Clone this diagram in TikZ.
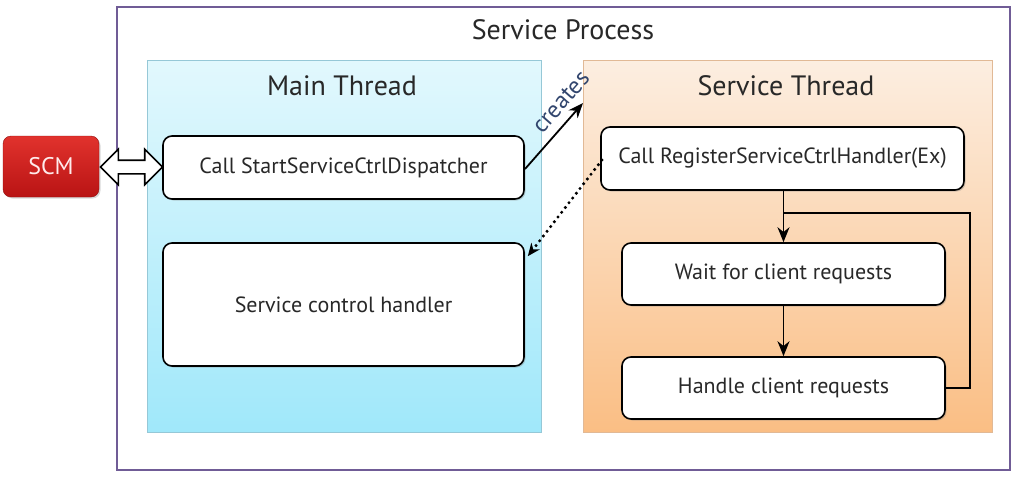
\documentclass[tikz,border=0pt]{standalone}
\usepackage{fontspec}
\setmainfont{PT Sans}
\usetikzlibrary{shapes.arrows,arrows.meta,shadows}
\definecolor{procline}{RGB}{112,92,150}
\definecolor{bluetop}{RGB}{226,248,253}
\definecolor{bluebot}{RGB}{160,232,250}
\definecolor{bluedge}{RGB}{150,200,215}
\definecolor{orgtop}{RGB}{252,238,225}
\definecolor{orgbot}{RGB}{250,190,132}
\definecolor{orgedge}{RGB}{225,185,150}
\definecolor{scmtop}{RGB}{225,50,45}
\definecolor{scmbot}{RGB}{185,20,20}
\definecolor{txt}{RGB}{40,40,40}
\definecolor{createc}{RGB}{50,70,110}
\tikzset{
  stepbox/.style={draw=black, line width=1.6pt, rounded corners=9pt, fill=white,
    drop shadow={shadow xshift=1.5pt, shadow yshift=-1.5pt, opacity=0.35},
    font=\fontsize{22}{26}\selectfont, text=txt},
  flow/.style={line width=1.8pt, -{Stealth[length=15pt,width=12pt]}},
  title/.style={font=\fontsize{28}{32}\selectfont, text=txt}
}
\begin{document}
\begin{tikzpicture}[x=1pt,y=-1pt]
\useasboundingbox (0,0) rectangle (1018,480);
\fill[white] (0,0) rectangle (1018,480);
% outer process
\draw[procline, line width=2pt] (117,7) rectangle (1010,470);
\node[title] (proc) at (563,30) {Service Process};
% thread areas
\shade[top color=bluetop, bottom color=bluebot, draw=bluedge, line width=0.8pt,
  drop shadow={shadow xshift=1pt, shadow yshift=-1pt, opacity=0.2}] (147,60) rectangle (541,432);
\node[title] (mt) at (342,86) {Main Thread};
\shade[top color=orgtop, bottom color=orgbot, draw=orgedge, line width=0.8pt,
  drop shadow={shadow xshift=1pt, shadow yshift=-1pt, opacity=0.2}] (583,60) rectangle (992,432);
\node[title] (st) at (786,86) {Service Thread};
% SCM
\node[rounded corners=8pt, top color=scmtop, bottom color=scmbot, draw=scmbot!80!black,
  minimum width=96pt, minimum height=61pt, text=white!92!red, font=\fontsize{24}{28}\selectfont,
  drop shadow={shadow xshift=1.5pt, shadow yshift=-1.5pt, opacity=0.3}] (scm) at (51,166.5) {SCM};
% boxes
\node[stepbox, minimum width=361pt, minimum height=63pt] (disp) at (343.5,167.5) {Call StartServiceCtrlDispatcher};
\node[stepbox, minimum width=361pt, minimum height=123pt] (hand) at (343.5,304.5) {Service control handler};
\node[stepbox, minimum width=363pt, minimum height=63pt] (reg) at (782.5,158.5) {Call RegisterServiceCtrlHandler(Ex)};
\node[stepbox, minimum width=323pt, minimum height=62pt] (wait) at (783.5,274) {Wait for client requests};
\node[stepbox, minimum width=323pt, minimum height=62pt] (handle) at (783.5,388) {Handle client requests};
% double arrow SCM <-> dispatcher
\node[double arrow, draw=black, fill=white, line width=1.6pt, minimum height=62pt,
  inner sep=0pt, minimum width=34pt, double arrow head extend=11pt, anchor=center,
  text width=0pt, inner ysep=6pt] (dbl) at (131.5,167) {};
% creates
\coordinate (cstart) at (525,169);
\coordinate (cend) at (583,103);
\draw[flow] (cstart) -- (cend);
\node[rotate=48.7, font=\fontsize{24}{28}\selectfont, text=createc, inner sep=0pt] (crt) at (561,102) {creates};
% dotted return
\coordinate (dstart) at (602,160);
\draw[line width=3.4pt, line cap=round, dash pattern=on 0pt off 6pt, -{Stealth[length=13pt,width=11pt,line cap=butt,line width=0pt]}] (dstart) -- ([xshift=3pt,yshift=-14pt]hand.north east);
% flow arrows
\draw[flow] (reg.south -| wait.north) -- (wait.north);
\draw[flow] (wait.south) -- (handle.north);
\coordinate (lp1) at (970,388);
\coordinate (lp2) at (970,213);
\coordinate (lp3) at (783.5,213);
\draw[line width=1.8pt] (handle.east) -- (lp1) -- (lp2) -- (lp3);
\end{tikzpicture}
\end{document}
